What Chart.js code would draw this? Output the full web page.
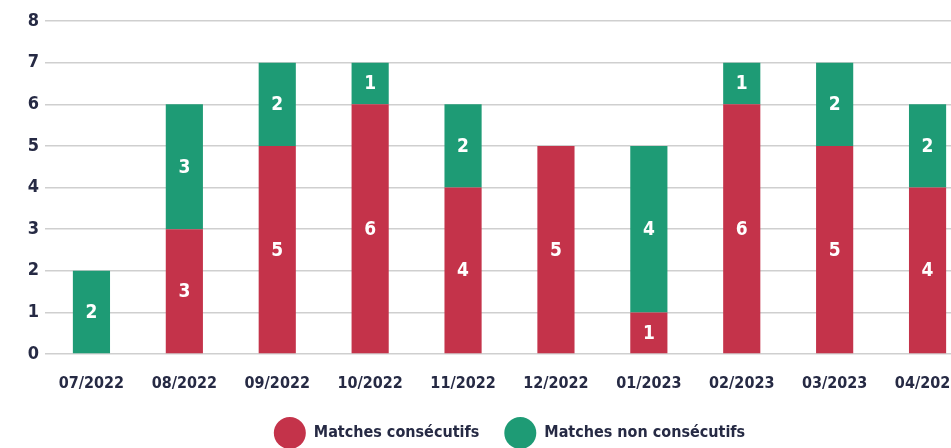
<!DOCTYPE html>
<html>
<head>
<meta charset="utf-8">
<script src="https://cdn.jsdelivr.net/npm/chart.js@4/dist/chart.umd.min.js"></script>
<style>
  html, body { margin: 0; padding: 0; background: #fff; overflow: hidden; }
  #wrap { width: 974px; height: 459px; }
</style>
</head>
<body>
<div id="wrap"><canvas id="matchesChart" width="974" height="459"></canvas></div>
<script>
const mois = ['07/2022', '08/2022', '09/2022', '10/2022', '11/2022', '12/2022', '01/2023', '02/2023', '03/2023', '04/2023'];
const consecutifs = [0, 3, 5, 6, 4, 5, 1, 6, 5, 4];
const nonConsecutifs = [2, 3, 2, 1, 2, 0, 4, 1, 2, 2];
const ticksY = [0, 1, 2, 3, 4, 5, 6, 7, 8];

const police = "'Liberation Sans Narrow', 'DejaVu Sans Condensed', 'Noto Sans', sans-serif";
const texte = '#262a44';

// chiffres blancs au milieu de chaque segment
const etiquettes = {
    id: 'etiquettes',
    afterDatasetsDraw(chart) {
        const ctx = chart.ctx;
        ctx.save();
        ctx.fillStyle = '#ffffff';
        ctx.font = 'bold 19px ' + police;
        ctx.textAlign = 'center';
        ctx.textBaseline = 'middle';
        chart.data.datasets.forEach((ds, i) => {
            const meta = chart.getDatasetMeta(i);
            meta.data.forEach((bar, j) => {
                const v = ds.data[j];
                if (!v) return;
                const p = bar.getProps(['x', 'y', 'base'], true);
                ctx.fillText(String(v), p.x, (p.y + p.base) / 2 + 1);
            });
        });
        ctx.restore();
    }
};

new Chart(document.getElementById('matchesChart'), {
    type: 'bar',
    data: {
        labels: mois,
        datasets: [
            {
                label: 'Matches consécutifs',
                data: consecutifs,
                backgroundColor: '#c4334a',
                borderWidth: 0,
                categoryPercentage: 0.8,
                barPercentage: 0.5
            },
            {
                label: 'Matches non consécutifs',
                data: nonConsecutifs,
                backgroundColor: '#1e9b75',
                borderWidth: 0,
                categoryPercentage: 0.8,
                barPercentage: 0.5
            }
        ]
    },
    options: {
        responsive: false,
        animation: false,
        layout: { padding: { top: 21, right: 0, left: 0, bottom: 0 } },
        scales: {
            x: {
                stacked: true,
                grid: { display: false, drawTicks: false },
                border: { display: false },
                ticks: {
                    color: texte,
                    font: { family: police, size: 16, weight: 'bold', lineHeight: 1 },
                    maxRotation: 0,
                    autoSkip: false,
                    padding: 22
                },
                afterFit(scale) {
                    scale.height = 38;
                    scale.paddingLeft = 0;
                    scale.paddingRight = 0;
                }
            },
            y: {
                stacked: true,
                min: 0,
                max: 8,
                afterBuildTicks(scale) { scale.ticks = ticksY.map(v => ({ value: v })); },
                grid: { color: '#cfcfcf', lineWidth: 1.5, drawTicks: false },
                border: { display: false },
                ticks: {
                    color: texte,
                    font: { family: police, size: 18, weight: 'bold' },
                    padding: 6
                },
                afterFit(scale) { scale.width = 45; }
            }
        },
        plugins: {
            tooltip: { enabled: false },
            legend: {
                position: 'bottom',
                fullSize: false,
                labels: {
                    color: texte,
                    font: { family: police, size: 16, weight: 'bold' },
                    boxWidth: 32,
                    boxHeight: 32,
                    useBorderRadius: true,
                    borderRadius: 16,
                    padding: 25
                }
            }
        }
    },
    plugins: [etiquettes]
});
</script>
</body>
</html>
